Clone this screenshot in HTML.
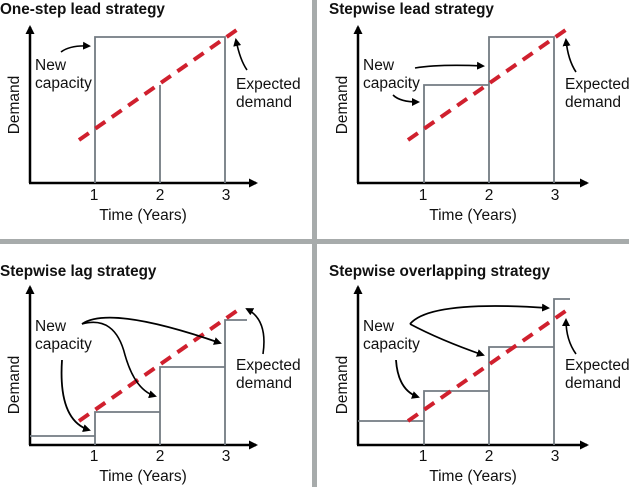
<!DOCTYPE html>
<html><head><style>
html,body{margin:0;padding:0;background:#fff;}
svg{display:block;}
text{font-family:"Liberation Sans",sans-serif;fill:#111;}
.t{font-weight:bold;font-size:15.3px;}
.l{font-size:15.5px;}
.ax{stroke:#000;stroke-width:2.5;fill:none;}
.cap{stroke:#737b82;stroke-width:1.8;fill:none;}
.dem{stroke:#d0202e;stroke-width:4;stroke-dasharray:12,8;fill:none;}
.ar{stroke:#000;fill:none;}
</style></head><body>
<svg width="629" height="487" viewBox="0 0 629 487">
<defs>
<marker id="ah" markerWidth="8" markerHeight="8" refX="6" refY="4" orient="auto" markerUnits="userSpaceOnUse"><path d="M0,0 L8,4 L0,8 z" fill="#000"/></marker>
<marker id="ax" markerWidth="9" markerHeight="9" refX="7" refY="4.5" orient="auto" markerUnits="userSpaceOnUse"><path d="M0,0 L9,4.5 L0,9 z" fill="#000"/></marker>
</defs>
<rect x="312" y="0" width="5" height="487" fill="#a7abab"/>
<rect x="0" y="239" width="629" height="5" fill="#a7abab"/>

<!-- Panel 1 -->
<text class="t" x="0" y="14">One-step lead strategy</text>
<path class="ax" d="M30,183 V27" marker-end="url(#ax)"/>
<path class="ax" d="M29,183 H256" marker-end="url(#ax)"/>
<path class="cap" d="M95,183 V37 H225 V183 M160,183 V85"/>
<path class="dem" d="M79,140 L238,29"/>
<text class="l" x="94" y="200" text-anchor="middle">1</text>
<text class="l" x="160" y="200" text-anchor="middle">2</text>
<text class="l" x="226" y="200" text-anchor="middle">3</text>
<text class="l" x="143" y="220" text-anchor="middle">Time (Years)</text>
<text class="l" transform="translate(19,105) rotate(-90)" text-anchor="middle">Demand</text>
<text class="l" x="35" y="70">New</text><text class="l" x="35" y="88">capacity</text>
<text class="l" x="236" y="89">Expected</text><text class="l" x="236" y="107">demand</text>
<path class="ar" stroke-width="1.6" d="M61,52 Q70,45 89,46" marker-end="url(#ah)"/>
<path class="ar" stroke-width="1.6" d="M247,70 Q240,60 236,40" marker-end="url(#ah)"/>

<!-- Panel 2 -->
<text class="t" x="329" y="14">Stepwise lead strategy</text>
<path class="ax" d="M358,183 V27" marker-end="url(#ax)"/>
<path class="ax" d="M357,183 H587" marker-end="url(#ax)"/>
<path class="cap" d="M424,183 V85 H489 V183 M489,85 V37 H554 V183"/>
<path class="dem" d="M408,140 L567,29"/>
<text class="l" x="423" y="200" text-anchor="middle">1</text>
<text class="l" x="489" y="200" text-anchor="middle">2</text>
<text class="l" x="555" y="200" text-anchor="middle">3</text>
<text class="l" x="473" y="220" text-anchor="middle">Time (Years)</text>
<text class="l" transform="translate(347,105) rotate(-90)" text-anchor="middle">Demand</text>
<text class="l" x="363" y="70">New</text><text class="l" x="363" y="88">capacity</text>
<text class="l" x="565" y="89">Expected</text><text class="l" x="565" y="107">demand</text>
<path class="ar" stroke-width="1.6" d="M415,68 Q440,64 483,66" marker-end="url(#ah)"/>
<path class="ar" stroke-width="1.6" d="M393,95 Q400,102 418,102" marker-end="url(#ah)"/>
<path class="ar" stroke-width="1.6" d="M576,72 Q568,60 566,40" marker-end="url(#ah)"/>

<!-- Panel 3 -->
<text class="t" x="0" y="276">Stepwise lag strategy</text>
<path class="ax" d="M30,445 V287" marker-end="url(#ax)"/>
<path class="ax" d="M29,445 H256" marker-end="url(#ax)"/>
<path class="cap" d="M30,436 H95 V445 M95,436 V412 H160 V445 M160,412 V367 H225 V445 M225,367 V320 H247"/>
<path class="dem" d="M79,421 L238,310"/>
<text class="l" x="94" y="461" text-anchor="middle">1</text>
<text class="l" x="160" y="461" text-anchor="middle">2</text>
<text class="l" x="226" y="461" text-anchor="middle">3</text>
<text class="l" x="143" y="481" text-anchor="middle">Time (Years)</text>
<text class="l" transform="translate(19,385) rotate(-90)" text-anchor="middle">Demand</text>
<text class="l" x="35" y="331">New</text><text class="l" x="35" y="349">capacity</text>
<text class="l" x="236" y="370">Expected</text><text class="l" x="236" y="388">demand</text>
<path class="ar" stroke-width="1.8" d="M62,360 Q58,420 89,430" marker-end="url(#ah)"/>
<path class="ar" stroke-width="1.6" d="M82,324 Q115,315 125,355 Q135,390 155,396" marker-end="url(#ah)"/>
<path class="ar" stroke-width="1.8" d="M82,324 Q110,305 220,343" marker-end="url(#ah)"/>
<path class="ar" stroke-width="1.6" d="M263,354 Q268,320 247,309" marker-end="url(#ah)"/>

<!-- Panel 4 -->
<text class="t" x="329" y="276">Stepwise overlapping strategy</text>
<path class="ax" d="M358,445 V287" marker-end="url(#ax)"/>
<path class="ax" d="M357,445 H587" marker-end="url(#ax)"/>
<path class="cap" d="M358,421 H424 V445 M424,421 V391 H489 V445 M489,391 V347 H554 V445 M554,347 V299 H570"/>
<path class="dem" d="M408,421 L567,310"/>
<text class="l" x="423" y="461" text-anchor="middle">1</text>
<text class="l" x="489" y="461" text-anchor="middle">2</text>
<text class="l" x="555" y="461" text-anchor="middle">3</text>
<text class="l" x="473" y="481" text-anchor="middle">Time (Years)</text>
<text class="l" transform="translate(347,385) rotate(-90)" text-anchor="middle">Demand</text>
<text class="l" x="363" y="331">New</text><text class="l" x="363" y="349">capacity</text>
<text class="l" x="565" y="370">Expected</text><text class="l" x="565" y="388">demand</text>
<path class="ar" stroke-width="1.8" d="M396,360 Q398,390 418,397" marker-end="url(#ah)"/>
<path class="ar" stroke-width="1.6" d="M410,324 Q440,340 483,355" marker-end="url(#ah)"/>
<path class="ar" stroke-width="1.8" d="M410,324 Q430,300 548,308" marker-end="url(#ah)"/>
<path class="ar" stroke-width="1.6" d="M576,354 Q566,340 566,320" marker-end="url(#ah)"/>
</svg>
</body></html>
